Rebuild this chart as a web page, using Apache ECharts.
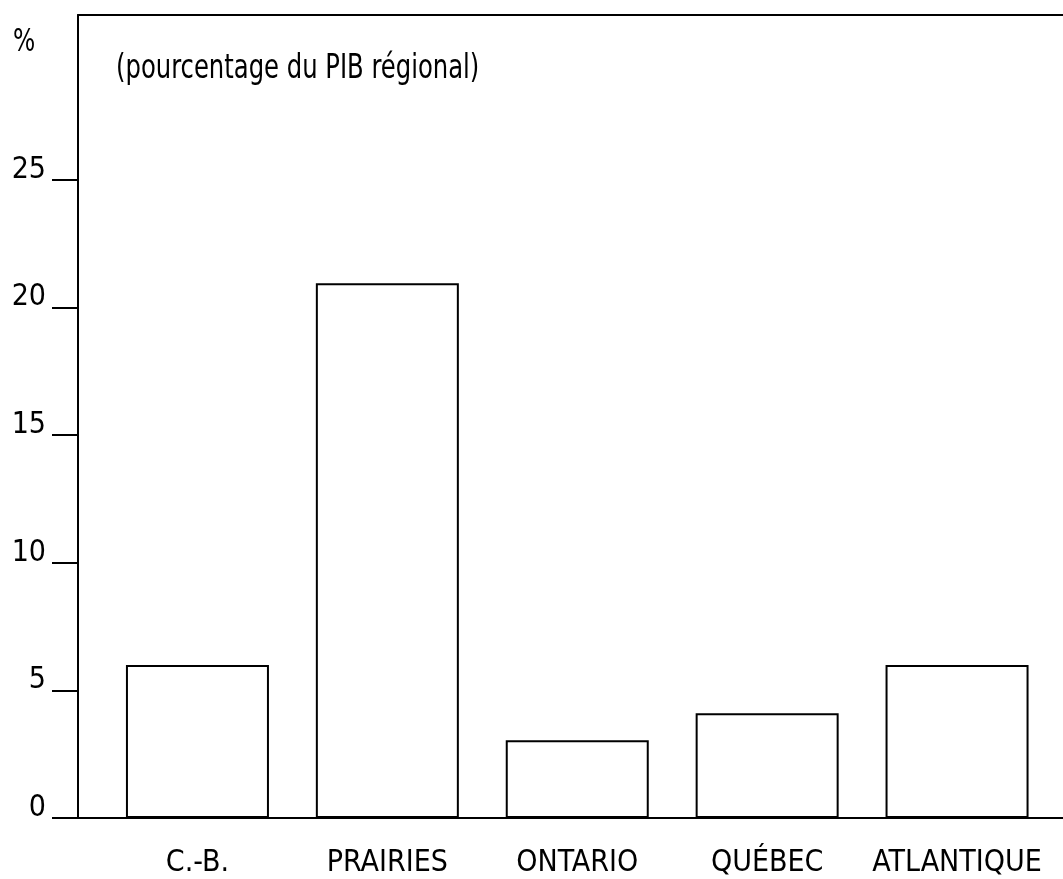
<!DOCTYPE html>
<html>
<head>
<meta charset="utf-8">
<title>PIB régional</title>
<script src="https://cdn.jsdelivr.net/npm/echarts@6/dist/echarts.min.js"></script>
<style>
    html, body {
        margin: 0;
        padding: 0;
        background: #fff;
    }
    #chartBar {
        width: 1063px;
        height: 879px;
    }
</style>
</head>
<body>
<div id="chartBar"></div>
<script>
const regions = ["C.-B.", "PRAIRIES", "ONTARIO", "QUÉBEC", "ATLANTIQUE"];
const shares = [6.0, 20.95, 3.05, 4.1, 6.0];
const yTicks = [0, 5, 10, 15, 20, 25];

const font = "'Liberation Sans Narrow', 'Arial Narrow', 'DejaVu Sans Condensed', sans-serif";
const ink = "#000";

const chartBar = echarts.init(document.getElementById("chartBar"));
chartBar.setOption({
    animation: false,
    backgroundColor: "#fff",
    textStyle: { fontFamily: font, color: ink },
    graphic: [
        {
            type: "text",
            left: 13,
            top: 27,
            scaleY: 1.2,
            style: { text: "%", font: "26px " + font, fill: ink }
        },
        {
            type: "text",
            left: 116,
            top: 52,
            scaleY: 1.25,
            style: { text: "(pourcentage du PIB régional)", font: "27px " + font, fill: ink }
        }
    ],
    grid: [
        // frame: top line, full baseline, left axis line
        { left: 78, right: 0, top: 15, bottom: 61 },
        // bars and ticks
        { left: 102.5, right: 11, top: 180, bottom: 61 }
    ],
    xAxis: [
        {
            gridIndex: 0,
            type: "value",
            min: 0,
            max: 1,
            axisLine: { show: true, onZero: false, lineStyle: { color: ink, width: 2 } },
            axisTick: { show: false },
            axisLabel: { show: false },
            splitLine: { show: false }
        },
        {
            gridIndex: 0,
            type: "value",
            position: "top",
            min: 0,
            max: 1,
            axisLine: { show: true, onZero: false, lineStyle: { color: ink, width: 2 } },
            axisTick: { show: false },
            axisLabel: { show: false },
            splitLine: { show: false }
        },
        {
            gridIndex: 1,
            type: "category",
            data: regions,
            axisLine: { show: false },
            axisTick: { show: false },
            axisLabel: {
                interval: 0,
                margin: 30,
                fontSize: 30,
                fontFamily: font,
                color: ink
            }
        }
    ],
    yAxis: [
        {
            gridIndex: 0,
            type: "value",
            min: 0,
            max: 1,
            axisLine: { show: true, onZero: false, lineStyle: { color: ink, width: 2 } },
            axisTick: { show: false },
            axisLabel: { show: false },
            splitLine: { show: false }
        },
        {
            gridIndex: 1,
            type: "value",
            min: yTicks[0],
            max: yTicks[yTicks.length - 1],
            interval: yTicks[1] - yTicks[0],
            offset: 24.5,
            axisLine: { show: true, lineStyle: { color: ink, width: 2 } },
            axisTick: { show: true, length: 26, lineStyle: { color: ink, width: 2 } },
            axisLabel: {
                margin: 32,
                fontSize: 30,
                fontFamily: font,
                color: ink,
                verticalAlign: "bottom",
                lineHeight: 20
            },
            splitLine: { show: false }
        }
    ],
    series: [
        {
            type: "bar",
            xAxisIndex: 2,
            yAxisIndex: 1,
            data: shares,
            barWidth: 143,
            itemStyle: {
                color: "#fff",
                borderColor: ink,
                borderWidth: 2
            }
        }
    ]
});
</script>
</body>
</html>
